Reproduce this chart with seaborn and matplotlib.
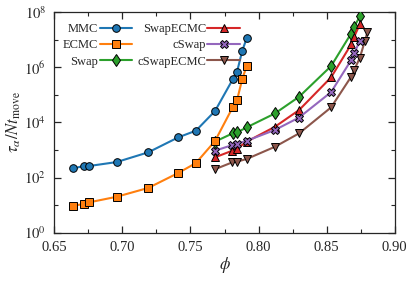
import numpy as np
import pandas as pd
import seaborn as sns
import matplotlib
matplotlib.use("Agg")
import matplotlib.pyplot as plt
from matplotlib.ticker import FixedLocator, NullFormatter, FixedFormatter

# ---- data ----
phi_mmc = [0.664, 0.6717, 0.6756, 0.6957, 0.719, 0.741, 0.754, 0.768, 0.781, 0.7842, 0.788, 0.7913]
tau_mmc = [215, 262, 262, 363, 820, 2860, 5000, 25700, 3.6e5, 6.8e5, 3.9e6, 1.13e7]

phi_ecmc = [0.664, 0.6717, 0.6756, 0.6957, 0.719, 0.741, 0.754, 0.768, 0.781, 0.7842, 0.788, 0.7913]
tau_ecmc = [9.5, 11, 12.6, 20, 42, 146, 335, 2100, 35000, 64000, 3.7e5, 1.1e6]

phi_swap = [0.768, 0.781, 0.7842, 0.7913, 0.812, 0.8298, 0.8533, 0.868, 0.8702, 0.8744]
tau_swap = [2000, 4000, 4300, 6600, 21000, 85000, 1.1e6, 1.67e7, 2.9e7, 7.0e7]

phi_swapecmc = [0.768, 0.7807, 0.784, 0.7913, 0.812, 0.8298, 0.8533, 0.868, 0.8702, 0.8744]
tau_swapecmc = [540, 940, 1100, 2000, 6900, 28000, 4.3e5, 6.7e6, 1.26e7, 3.6e7]

phi_cswap = [0.768, 0.7807, 0.784, 0.7913, 0.812, 0.8298, 0.8533, 0.868, 0.8702, 0.8744]
tau_cswap = [940, 1500, 1670, 2150, 5300, 15000, 1.25e5, 1.8e6, 3.2e6, 8.9e6]

phi_cswapecmc = [0.768, 0.7807, 0.784, 0.7913, 0.812, 0.8298, 0.8533, 0.868, 0.8702, 0.8744, 0.878, 0.880]
tau_cswapecmc = [200, 355, 375, 470, 1300, 4000, 35000, 4.5e5, 7.8e5, 2.2e6, 8.6e6, 1.9e7]

x_ticks = [0.65, 0.70, 0.75, 0.80, 0.85, 0.90]
x_ticklabels = ["0.65", "0.70", "0.75", "0.80", "0.85", "0.90"]
y_ticks = [1e0, 1e2, 1e4, 1e6, 1e8]
y_ticklabels = [r"$10^{0}$", r"$10^{2}$", r"$10^{4}$", r"$10^{6}$", r"$10^{8}$"]

series = ["MMC", "ECMC", "Swap", "SwapECMC", "cSwap", "cSwapECMC"]
phis = [phi_mmc, phi_ecmc, phi_swap, phi_swapecmc, phi_cswap, phi_cswapecmc]
taus = [tau_mmc, tau_ecmc, tau_swap, tau_swapecmc, tau_cswap, tau_cswapecmc]

df = pd.concat([pd.DataFrame({"phi": p, "tau": t, "method": s})
                for s, p, t in zip(series, phis, taus)], ignore_index=True)

sns.set_style("ticks")
plt.rcParams["font.family"] = ["Liberation Serif", "DejaVu Serif"]
plt.rcParams["mathtext.fontset"] = "stix"

colors = dict(zip(series, sns.color_palette("tab10", 6)))
markers = {"MMC": "o", "ECMC": "s", "Swap": "d", "SwapECMC": "^", "cSwap": "X", "cSwapECMC": "v"}
msize = {"MMC": 5.5, "ECMC": 5.2, "Swap": 6, "SwapECMC": 6, "cSwap": 6, "cSwapECMC": 6}
zord = {"MMC": 3, "ECMC": 4, "Swap": 3, "SwapECMC": 3, "cSwap": 4, "cSwapECMC": 3}

fig = plt.figure(figsize=(4.15, 2.81), dpi=100)
ax = fig.add_axes([0.131, 0.172, 0.82, 0.785])

for s in series:
    sub = df[df["method"] == s]
    sns.lineplot(data=sub, x="phi", y="tau", ax=ax, color=colors[s], marker=markers[s],
                 markersize=msize[s], markeredgecolor="black", markeredgewidth=0.7,
                 linewidth=1.5, label=s, sort=False, estimator=None, zorder=zord[s])

ax.set_yscale("log")
ax.set_xlim(0.65, 0.90)
ax.set_ylim(1, 1e8)
ax.xaxis.set_major_locator(FixedLocator(x_ticks))
ax.xaxis.set_major_formatter(FixedFormatter(x_ticklabels))
ax.xaxis.set_minor_locator(FixedLocator([0.675, 0.725, 0.775, 0.825, 0.875]))
ax.xaxis.set_minor_formatter(NullFormatter())
ax.yaxis.set_major_locator(FixedLocator(y_ticks))
ax.yaxis.set_major_formatter(FixedFormatter(y_ticklabels))
ax.yaxis.set_minor_locator(FixedLocator([1e1, 1e3, 1e5, 1e7]))
ax.yaxis.set_minor_formatter(NullFormatter())
ax.tick_params(which="both", direction="in", top=True, right=True, labelsize=10.5)
ax.tick_params(axis="x", which="major", pad=6)
ax.tick_params(axis="y", which="major", pad=6)
ax.tick_params(which="major", length=5, width=0.9)
ax.tick_params(which="minor", length=3, width=0.8)
for sp in ax.spines.values():
    sp.set_linewidth(0.9)

ax.set_xlabel(r"$\phi$", fontsize=12, labelpad=1)
ax.set_ylabel(r"$\tau_\alpha/Nt_\mathrm{move}$", fontsize=12, labelpad=1)

ax.legend(ncol=2, loc="upper left", frameon=False, markerfirst=False, fontsize=9,
          handlelength=2.6, handletextpad=0.1, columnspacing=0.4, labelspacing=0.35,
          borderaxespad=0.3, bbox_to_anchor=(0.0, 0.99))

fig.savefig("out.png", dpi=100)
